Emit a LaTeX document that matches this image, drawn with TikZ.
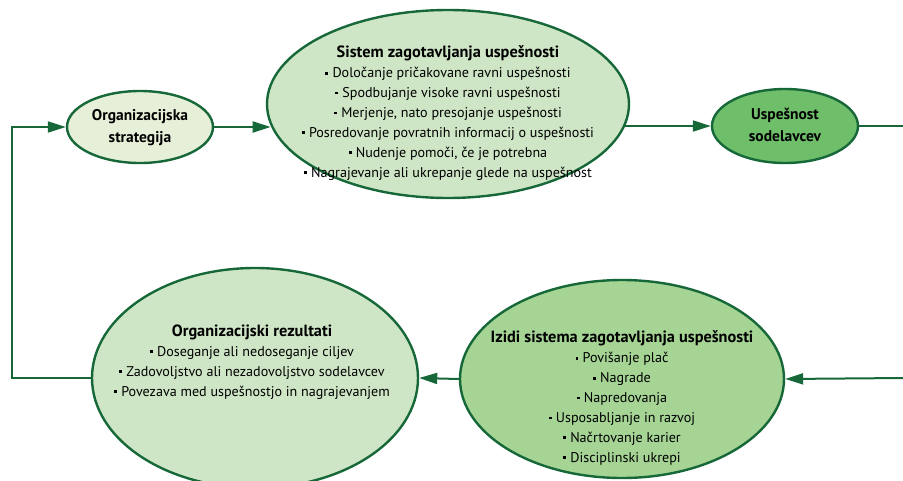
\documentclass[tikz,border=0pt]{standalone}
\usepackage{fontspec}
\setmainfont{PT Sans}
\usetikzlibrary{arrows.meta,shapes.geometric}

\definecolor{darkgreen}{RGB}{22,104,56}
\definecolor{palegreen}{RGB}{230,240,216}
\definecolor{lightgreen}{RGB}{207,230,198}
\definecolor{midgreen}{RGB}{165,212,149}
\definecolor{stronggreen}{RGB}{110,190,106}

% small square bullet
\newcommand{\bul}{\rule[0.22em]{0.2em}{0.2em}\hspace{0.3em}}
% bold title line inside a text block
\newcommand{\ttl}[1]{{\fontsize{16.3}{20}\selectfont\bfseries #1}}

\tikzset{
  blob/.style={ellipse, draw=darkgreen, line width=2.4pt, inner sep=0pt},
  conn/.style={draw=darkgreen, line width=2pt},
  tip/.style={-{Triangle[length=18pt,width=11pt]}},
  head/.style={font=\fontsize{15.5}{22}\selectfont\bfseries, align=center, text=black},
  body/.style={font=\fontsize{14.1}{19.9}\selectfont, align=center, text=black},
}

\begin{document}
\begin{tikzpicture}[x=1pt,y=-1pt]
\useasboundingbox (0,0) rectangle (903,480);

% ellipses
\node[blob, fill=palegreen, minimum width=146pt, minimum height=72pt] (ostrat) at (140,127) {};
\node[blob, fill=lightgreen, minimum width=362pt, minimum height=188pt] (sistem) at (448,104) {};
\node[blob, fill=stronggreen, minimum width=146pt, minimum height=74pt] (usp) at (785,126) {};
\node[blob, fill=lightgreen, minimum width=326pt, minimum height=220pt] (orez) at (255,378) {};
\node[blob, fill=midgreen, minimum width=324pt, minimum height=198pt] (izidi) at (622,379) {};

% texts
\node[head] (tOstrat) at (140,128) {Organizacijska\\strategija};
\node[head] (tUsp) at (785,125) {Uspešnost\\sodelavcev};
\node[body] (tSistem) at (448,113) {\ttl{Sistem zagotavljanja uspešnosti}\\
  \bul Določanje pričakovane ravni uspešnosti\\
  \bul Spodbujanje visoke ravni uspešnosti\\
  \bul Merjenje, nato presojanje uspešnosti\\
  \bul Posredovanje povratnih informacij o uspešnosti\\
  \bul Nudenje pomoči, če je potrebna\\
  \bul Nagrajevanje ali ukrepanje glede na uspešnost};
\node[body] (tOrez) at (252,362) {\ttl{Organizacijski rezultati}\\
  \bul Doseganje ali nedoseganje ciljev\\
  \bul Zadovoljstvo ali nezadovoljstvo sodelavcev\\
  \bul Povezava med uspešnostjo in nagrajevanjem};
\node[body] (tIzidi) at (622,398) {\ttl{Izidi sistema zagotavljanja uspešnosti}\\
  \bul Povišanje plač\\
  \bul Nagrade\\
  \bul Napredovanja\\
  \bul Usposabljanje in razvoj\\
  \bul Načrtovanje karier\\
  \bul Disciplinski ukrepi};

% loose ends and corners of the connectors
\coordinate (outR) at (903,126);
\coordinate (inR) at (903,378);
\coordinate (loopB) at (12,378);
\coordinate (loopT) at (12,127);

% connectors
\draw[conn,tip] (ostrat.east) -- (ostrat.east -| sistem.187.5);
\draw[conn,tip] (usp.west -| sistem.-7.2) -- (usp.west);
\draw[conn] (usp.east) -- (outR);
\draw[conn,tip] (inR) -- (izidi.east);
\draw[conn,tip] (izidi.west) -- (orez.east);
\draw[conn,tip] (orez.west) -- (loopB) -- (loopT) -- (ostrat.west);
\end{tikzpicture}
\end{document}
